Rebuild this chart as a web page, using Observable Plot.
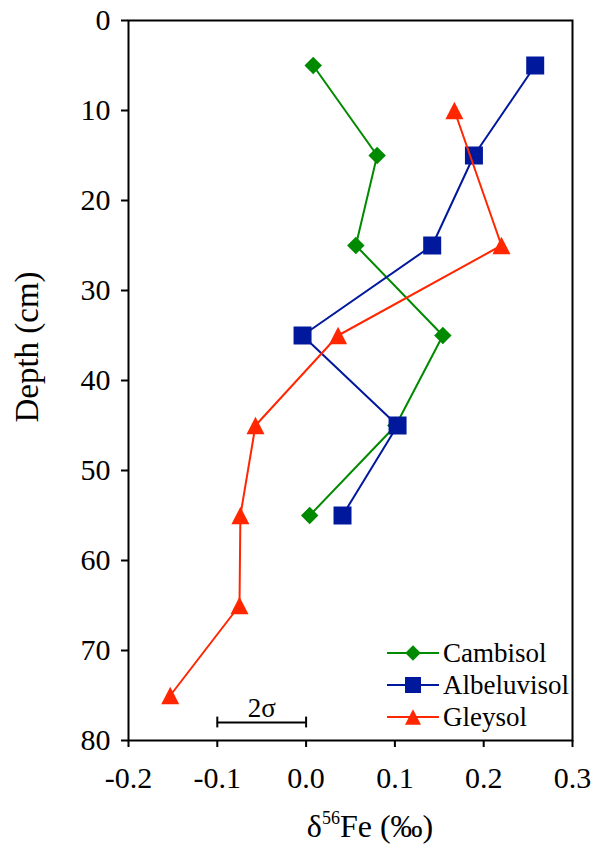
<!DOCTYPE html>
<html>
<head>
<meta charset="utf-8">
<script src="https://cdn.jsdelivr.net/npm/d3@7"></script>
<script src="https://cdn.jsdelivr.net/npm/@observablehq/plot@0.6"></script>
<style>
  html, body { margin: 0; padding: 0; background: #fff; }
  #chart svg { display: block; }
</style>
</head>
<body>
<div id="chart"></div>
<script>
// ---- Data ----
const seriesNames = ["Cambisol", "Albeluvisol", "Gleysol"];
const seriesColors = ["#008a00", "#00189c", "#ff2600"];

const cambisolDepth = [5, 15, 25, 35, 45, 55];
const cambisolFe    = [0.008, 0.080, 0.056, 0.154, 0.101, 0.004];

const albeluvisolDepth = [5, 15, 25, 35, 45, 55];
const albeluvisolFe    = [0.258, 0.189, 0.142, -0.004, 0.103, 0.041];

const gleysolDepth = [10, 25, 35, 45, 55, 65, 75];
const gleysolFe    = [0.167, 0.220, 0.036, -0.057, -0.074, -0.075, -0.153];

const xTicks = [-0.2, -0.1, 0.0, 0.1, 0.2, 0.3];
const yTicks = [0, 10, 20, 30, 40, 50, 60, 70, 80];

// 2σ error bar (analytical uncertainty)
const errLo = -0.1;
const errHi = 0.0;
const errDepth = 78;
const errLabel = "2σ";

const xLabelMain = ["δ", "56", "Fe (‰)"];
const yLabel = "Depth (cm)";

// ---- Custom symbols ----
const symSquare = { draw(ctx, size) { const r = Math.sqrt(size / Math.PI); ctx.rect(-r, -r, 2 * r, 2 * r); } };
const symDiamond = { draw(ctx, size) { const r = Math.sqrt(size / Math.PI) * 0.97; ctx.moveTo(0, -r); ctx.lineTo(r, 0); ctx.lineTo(0, r); ctx.lineTo(-r, 0); ctx.closePath(); } };
const symTriangle = { draw(ctx, size) { const r = Math.sqrt(size / Math.PI); const h = r * 0.96; ctx.moveTo(0, -h); ctx.lineTo(r, h); ctx.lineTo(-r, h); ctx.closePath(); } };
const symbols = [symDiamond, symSquare, symTriangle];

const seriesData = [
  cambisolDepth.map((d, i) => ({ depth: d, fe: cambisolFe[i] })),
  albeluvisolDepth.map((d, i) => ({ depth: d, fe: albeluvisolFe[i] })),
  gleysolDepth.map((d, i) => ({ depth: d, fe: gleysolFe[i] }))
];

const W = 593, H = 852;
const font = "'Liberation Serif', 'Times New Roman', serif";

const marks = [];
seriesData.forEach((rows, i) => {
  marks.push(Plot.line(rows, { x: "fe", y: "depth", stroke: seriesColors[i], strokeWidth: 2 }));
  marks.push(Plot.dot(rows, { x: "fe", y: "depth", symbol: symbols[i], r: 9, fill: seriesColors[i], stroke: "none" }));
});

const err = [{ lo: errLo, hi: errHi, depth: errDepth, label: errLabel }];
marks.push(Plot.ruleY(err, { x1: "lo", x2: "hi", y: "depth", stroke: "#000", strokeWidth: 2 }));
marks.push(Plot.ruleX([errLo, errHi], { x: d => d, y1: errDepth - 0.6, y2: errDepth + 0.6, stroke: "#000", strokeWidth: 2 }));
marks.push(Plot.text(err, { x: d => (d.lo + d.hi) / 2, y: "depth", text: "label", dy: -14, fontSize: 27, fill: "#000" }));

marks.push(Plot.frame({ stroke: "#000", strokeWidth: 2 }));
marks.push(Plot.axisX({ ticks: xTicks, tickFormat: d => d.toFixed(1), tickSize: 7, tickPadding: 19, strokeWidth: 2, fontSize: 30, label: null }));
marks.push(Plot.axisY({ ticks: yTicks, tickFormat: d => String(d), tickSize: 7, tickPadding: 11, strokeWidth: 2, fontSize: 30, label: null }));

const chart = Plot.plot({
  width: W,
  height: H,
  marginLeft: 128,
  marginRight: 21,
  marginTop: 20,
  marginBottom: 112,
  style: { fontFamily: font, fontSize: "30px", color: "#000", background: "#fff", overflow: "visible" },
  x: { domain: [-0.2, 0.3] },
  y: { domain: [0, 80], reverse: true },
  marks
});

document.getElementById("chart").appendChild(chart);

// ---- Axis titles and legend (text with superscript) ----
const svg = d3.select(chart);

const xt = svg.append("text")
  .attr("x", 370).attr("y", 837)
  .attr("text-anchor", "middle")
  .attr("font-family", font).attr("font-size", 32).attr("fill", "#000");
xt.append("tspan").text(xLabelMain[0]);
xt.append("tspan").attr("font-size", 18).attr("dy", -13).text(xLabelMain[1]);
xt.append("tspan").attr("dy", 13).text(xLabelMain[2]);

svg.append("text")
  .attr("transform", "translate(38,347) rotate(-90)")
  .attr("text-anchor", "middle")
  .attr("font-family", font).attr("font-size", 33).attr("fill", "#000")
  .text(yLabel);

const legendY = [653, 685, 717];
const legend = svg.append("g");
seriesNames.forEach((name, i) => {
  const g = legend.append("g").attr("transform", `translate(0,${legendY[i]})`);
  g.append("line").attr("x1", 387).attr("x2", 439).attr("y1", 0).attr("y2", 0)
    .attr("stroke", seriesColors[i]).attr("stroke-width", 2);
  g.append("path").attr("transform", "translate(413,0)")
    .attr("d", d3.symbol(symbols[i], Math.PI * 8 * 8)())
    .attr("fill", seriesColors[i]);
  g.append("text").attr("x", 443).attr("y", 9)
    .attr("text-anchor", "start")
    .attr("font-family", font).attr("font-size", 27).attr("fill", "#000")
    .text(name);
});
</script>
</body>
</html>
